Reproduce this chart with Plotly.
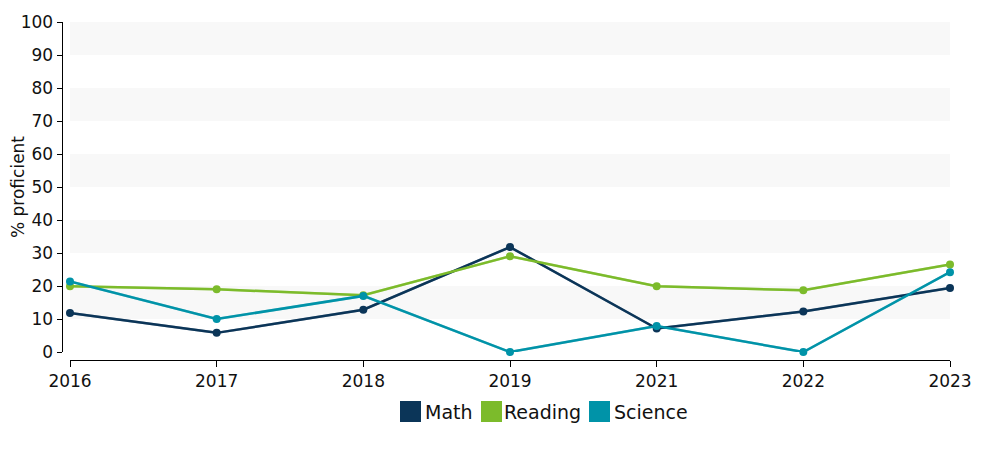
import plotly.graph_objects as go

years = ["2016", "2017", "2018", "2019", "2021", "2022", "2023"]
math = [11.8, 5.8, 12.8, 31.8, 7.1, 12.3, 19.4]
reading = [19.9, 19.0, 17.2, 29.0, 19.9, 18.7, 26.5]
science = [21.4, 10.0, 17.0, 0.0, 7.9, 0.0, 24.2]

series = [
    ("Math", math, "#0b3558", "#a3b0bd"),
    ("Reading", reading, "#7cbb2b", "#cfe6b2"),
    ("Science", science, "#0093a8", "#a6d6dd"),
]

W, H = 1000, 450
OFF = 8  # page body margin
FONT = "DejaVu Sans, Verdana, sans-serif"
TXT = "#111111"

def px(p):
    return (p - OFF) / W

def py(p):
    return 1 - (p - OFF) / H

fig = go.Figure()

# soft shadow traces on a slightly lower hidden axis
for name, vals, col, shadow in series:
    fig.add_trace(go.Scatter(
        x=years, y=vals, mode="lines", yaxis="y",
        line=dict(color=shadow, width=2.5), showlegend=False,
        hoverinfo="skip", cliponaxis=False,
    ))

for name, vals, col, shadow in series:
    fig.add_trace(go.Scatter(
        x=years, y=vals, mode="lines+markers", name=name, yaxis="y2",
        line=dict(color=col, width=2.5),
        marker=dict(color=col, size=8),
        showlegend=False, cliponaxis=False,
    ))

# alternating bands
for lo in range(10, 100, 20):
    fig.add_shape(type="rect", xref="x domain", yref="y2",
                  x0=0, x1=1, y0=lo, y1=lo + 10,
                  fillcolor="#f8f8f8", line=dict(width=0), layer="below")

# legend: squares + labels
legend_pos = [(400, 423), (481, 502), (589, 612)]
for (name, vals, col, shadow), (sx, tx) in zip(series, legend_pos):
    fig.add_shape(type="rect", xref="paper", yref="paper",
                  x0=px(sx), x1=px(sx + 21), y0=py(422), y1=py(401),
                  fillcolor=col, line=dict(width=0))
    fig.add_annotation(text=name, xref="paper", yref="paper",
                       x=px(tx), y=py(412), xanchor="left", yanchor="middle",
                       showarrow=False, font=dict(size=19, color=TXT))

fig.update_layout(
    width=W, height=H,
    margin=dict(l=0, r=0, t=0, b=0),
    paper_bgcolor="white", plot_bgcolor="white",
    font=dict(family=FONT, size=17, color=TXT),
    showlegend=False,
    xaxis=dict(
        type="category", domain=[px(70), px(950)], range=[0, 6],
        anchor="free", position=py(360),
        showline=True, linecolor="#000000", linewidth=1,
        ticks="outside", ticklen=6, tickcolor="#000000",
        showgrid=False, zeroline=False, automargin=False,
        tickfont=dict(size=17, color=TXT),
    ),
    yaxis=dict(
        domain=[py(352), py(22)], range=[0, 100],
        anchor="free", position=px(61.5),
        visible=False, showgrid=False, zeroline=False,
    ),
    yaxis2=dict(
        domain=[py(350), py(20)], range=[0, 100],
        overlaying="y", anchor="free", position=px(61.5),
        showline=True, linecolor="#000000", linewidth=1,
        ticks="outside", ticklen=5, tickcolor="#000000",
        dtick=10, showgrid=False, zeroline=False, automargin=False,
        tickfont=dict(size=17, color=TXT),
        title=dict(text="% proficient", font=dict(size=17, color=TXT), standoff=2),
    ),
)

fig.write_html("out.html")
